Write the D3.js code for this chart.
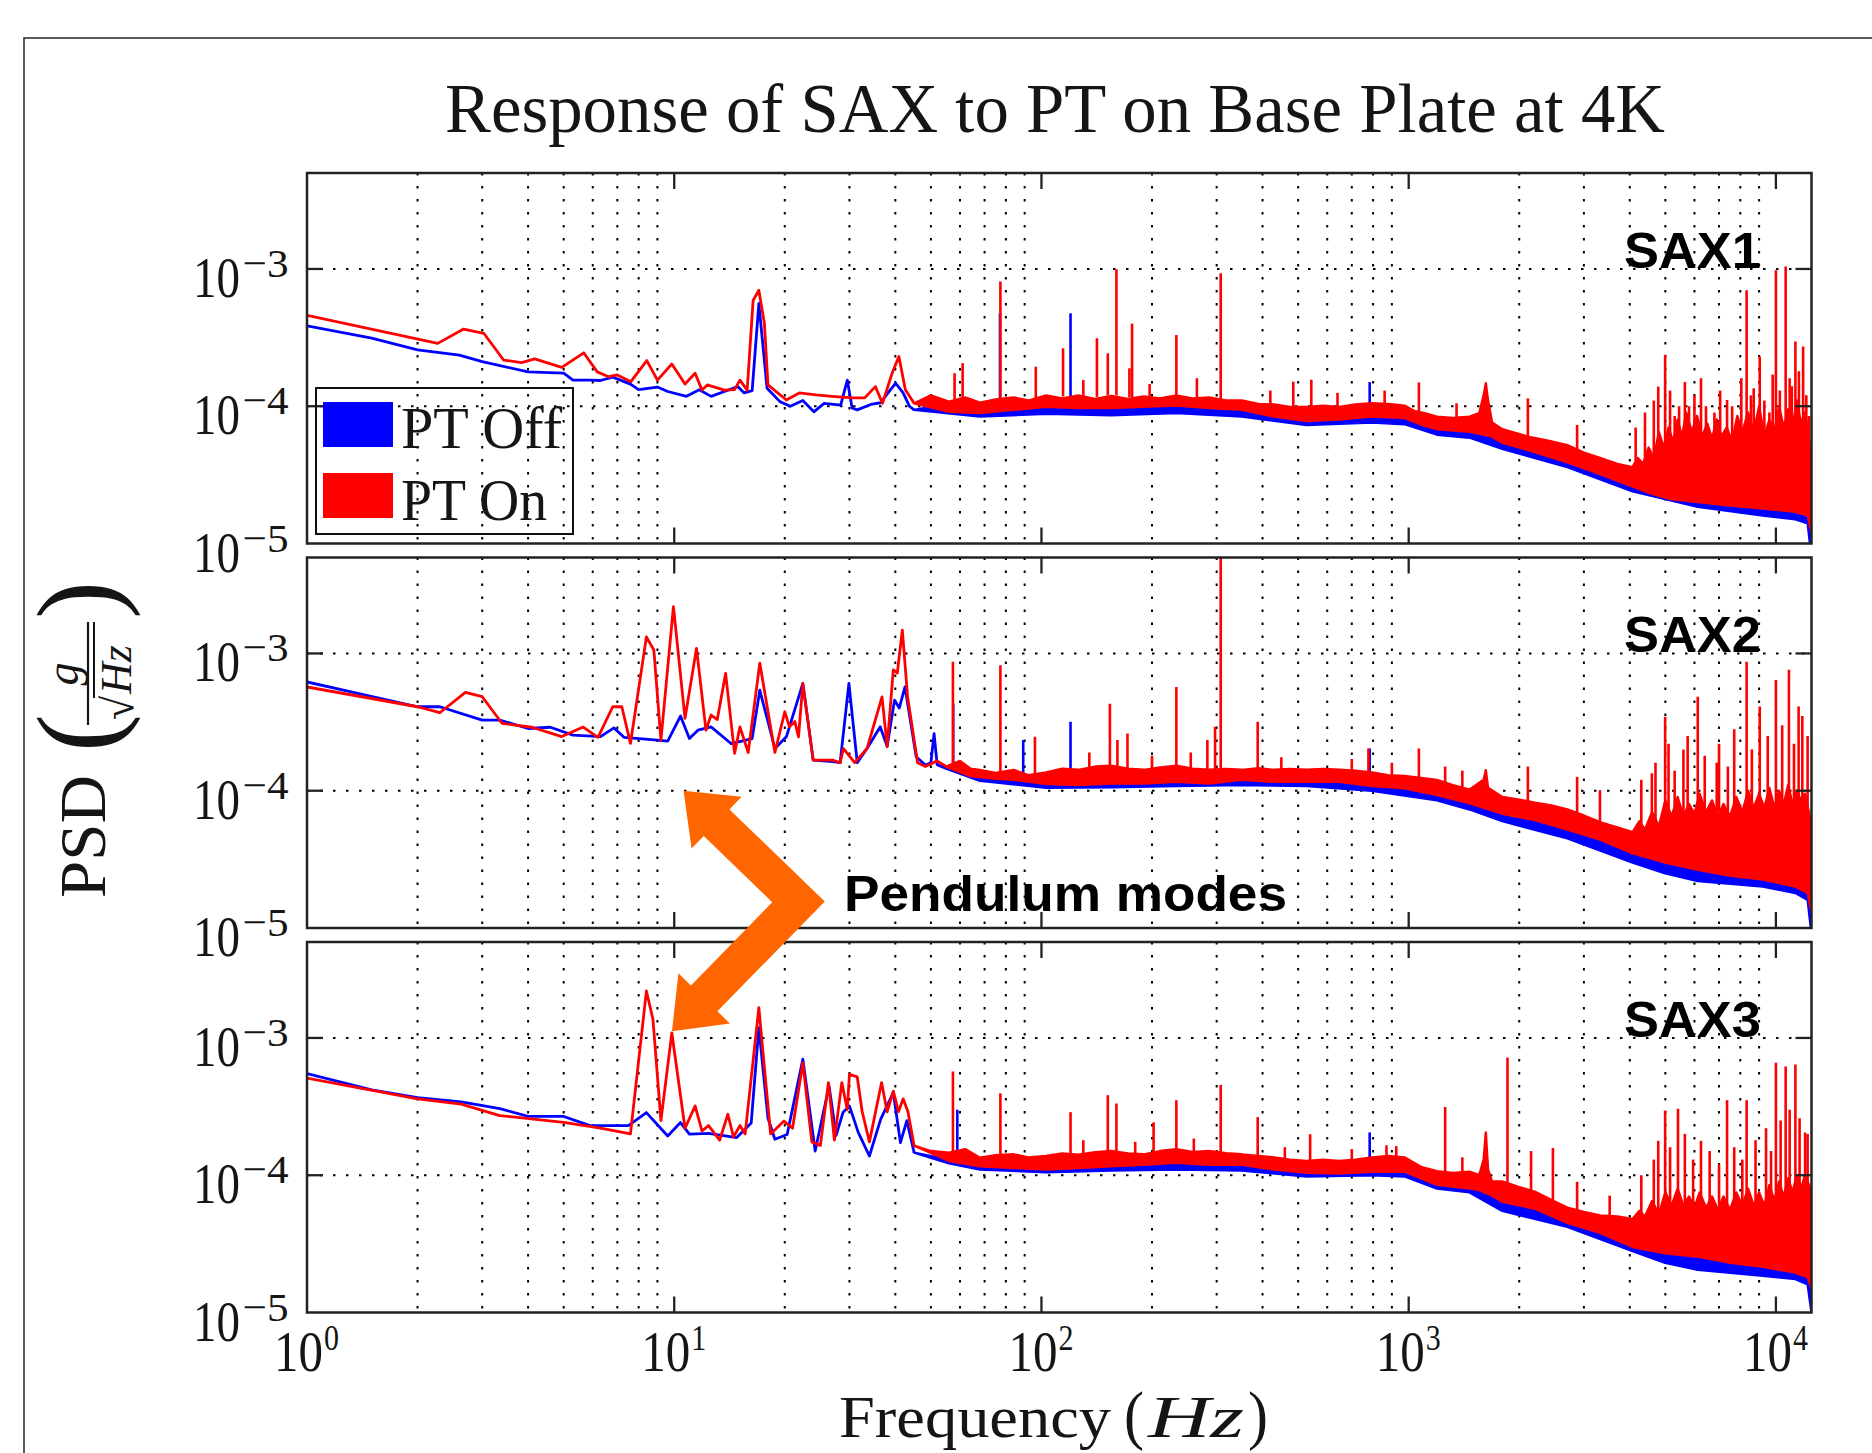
<!DOCTYPE html>
<html>
<head>
<meta charset="utf-8">
<script src="https://cdn.jsdelivr.net/npm/d3@7"></script>
<style>
  body { margin: 0; background: #fff; }
  svg { display: block; }
</style>
</head>
<body>
<svg id="chart"></svg>
<script>
// ---- data (Hz, g/sqrt(Hz)) ----
const freqDomain = [1, 12500];
const psdDomain = [1e-5, 5e-3];
const panelNames = ["SAX1", "SAX2", "SAX3"];
const seriesNames = ["PT Off", "PT On"];
const xTickValues = [1, 10, 100, 1000, 10000];
const yTickValues = [1e-5, 1e-4, 1e-3];

// SAX1
const sax1OffTrace = [[1,3.85e-4],[1.5,3.13e-4],[2,2.57e-4],[2.6,2.36e-4],[3,2.11e-4],[4,1.78e-4],[5,1.74e-4],[5.3,1.55e-4],[5.9,1.55e-4],[6.3,1.54e-4],[6.8,1.63e-4],[7.6,1.45e-4],[8,1.32e-4],[9,1.38e-4],[9.6,1.28e-4],[10.8,1.18e-4],[11.7,1.32e-4],[12.6,1.18e-4],[13.7,1.28e-4],[14.9,1.39e-4],[15.5,1.25e-4],[16.3,1.3e-4],[17,5.6e-4],[17.9,1.35e-4],[19.4,1.08e-4],[20.7,1e-4],[22.4,1.1e-4],[24,9.1e-5],[25.6,1.05e-4],[28.4,1.02e-4],[29.6,1.55e-4],[30.5,9.7e-5],[31.5,9.4e-5],[34.3,1.03e-4],[36.5,1.06e-4],[38.8,1.32e-4],[40.1,1.47e-4],[42,1.25e-4],[43.7,1e-4],[45,9.4e-5]];
const sax1OffHi = [[45,9.4e-5],[56,1.05e-4],[68,1e-4],[84,1.05e-4],[103,1.1e-4],[155,1.1e-4],[233,1.12e-4],[351,1.05e-4],[527,9.2e-5],[794,9.8e-5],[974,9.5e-5],[1194,7.8e-5],[1465,7.5e-5],[1580,7.8e-5],[1622,1.2e-4],[1660,7e-5],[1798,6.2e-5],[2704,4.5e-5],[4071,3e-5],[6126,2.6e-5],[9211,2.4e-5],[11300,2.6e-5],[12500,2e-5]];
const sax1OffLo = [[45,9.4e-5],[68,8.4e-5],[103,8.8e-5],[155,8.6e-5],[233,8.9e-5],[351,8.4e-5],[527,7.3e-5],[794,7.6e-5],[974,7.4e-5],[1194,6.2e-5],[1465,5.9e-5],[1798,4.9e-5],[2704,3.6e-5],[4071,2.4e-5],[6126,1.85e-5],[9211,1.6e-5],[11300,1.5e-5],[12200,1.4e-5],[12500,8e-6]];
const sax1OffSpikes = [[77.1,1e-4,4.75e-4],[120,1.05e-4,4.75e-4],[783,9.5e-5,1.5e-4]];
const sax1OnTrace = [[1,4.6e-4],[2.27,2.87e-4],[2.67,3.65e-4],[3.03,3.4e-4],[3.43,2.17e-4],[3.84,2.08e-4],[4.17,2.21e-4],[4.94,1.92e-4],[5.67,2.45e-4],[6.17,1.78e-4],[6.63,1.64e-4],[7,1.69e-4],[7.62,1.51e-4],[8.42,2.15e-4],[9,1.55e-4],[9.85,2.03e-4],[10.7,1.45e-4],[11.4,1.74e-4],[11.9,1.31e-4],[12.3,1.43e-4],[13.7,1.31e-4],[14.6,1.32e-4],[15.1,1.55e-4],[15.8,1.31e-4],[16.4,5.9e-4],[17,7e-4],[17.6,4e-4],[18,1.43e-4],[20.2,1.11e-4],[21.9,1.25e-4],[24.3,1.21e-4],[26.9,1.18e-4],[30.5,1.15e-4],[33,1.15e-4],[35.3,1.39e-4],[36.9,1.05e-4],[39.2,1.74e-4],[40.9,2.3e-4],[42.6,1.32e-4],[45,1.05e-4]];
const sax1OnHi = [[45,1.05e-4],[50,1.2e-4],[56,1.08e-4],[62,1.16e-4],[68,1.06e-4],[75,1.12e-4],[84,1.16e-4],[92,1.1e-4],[103,1.2e-4],[114,1.14e-4],[126,1.2e-4],[140,1.13e-4],[155,1.19e-4],[172,1.13e-4],[190,1.18e-4],[210,1.14e-4],[233,1.2e-4],[258,1.14e-4],[286,1.16e-4],[318,1.1e-4],[351,1.1e-4],[390,1.04e-4],[430,1.03e-4],[475,9.9e-5],[527,9.9e-5],[585,1.01e-4],[647,9.9e-5],[715,1.03e-4],[794,1.05e-4],[880,1.04e-4],[974,1.01e-4],[1040,9.2e-5],[1105,8.9e-5],[1194,8.4e-5],[1320,8.2e-5],[1465,8.4e-5],[1556,8.9e-5],[1600,1.2e-4],[1622,1.47e-4],[1645,1.1e-4],[1687,7.6e-5],[1798,6.8e-5],[1950,6.4e-5],[2111,6e-5],[2400,5.6e-5],[2704,5.2e-5],[3000,4.6e-5],[3318,4.2e-5],[3700,3.8e-5],[4071,3.6e-5],[4200,4.2e-5],[4350,3.8e-5],[4500,5e-5],[4650,4.2e-5],[4800,6.5e-5],[4950,5e-5],[5100,7e-5],[5250,5.5e-5],[5400,8e-5],[5550,6e-5],[5700,9e-5],[5900,6.5e-5],[6100,8.5e-5],[6300,6e-5],[6500,7.5e-5],[6700,5.8e-5],[6900,8e-5],[7100,6e-5],[7350,7e-5],[7600,5.5e-5],[7850,8.5e-5],[8100,6.5e-5],[8400,9e-5],[8700,6.5e-5],[9000,1e-4],[9300,6e-5],[9600,8e-5],[9900,6.5e-5],[10200,1e-4],[10500,7e-5],[10800,9.5e-5],[11100,7e-5],[11400,1.1e-4],[11700,7.5e-5],[12000,9e-5],[12300,6e-5],[12500,4e-5]];
const sax1OnLo = [[45,1.05e-4],[56,9.1e-5],[68,8.9e-5],[84,9.4e-5],[103,9.9e-5],[126,9.7e-5],[155,9.7e-5],[190,9.9e-5],[233,1.01e-4],[286,9.7e-5],[351,9.4e-5],[430,8.4e-5],[527,7.8e-5],[647,8e-5],[794,8.4e-5],[974,8.2e-5],[1105,7.2e-5],[1194,6.8e-5],[1465,6.5e-5],[1556,6.3e-5],[1687,6e-5],[1798,5.4e-5],[2111,4.8e-5],[2704,3.9e-5],[3318,3.2e-5],[4071,2.6e-5],[4594,2.3e-5],[5198,2.1e-5],[6126,2e-5],[7362,1.9e-5],[9211,1.8e-5],[11300,1.7e-5],[12200,1.6e-5],[12500,1.2e-5]];
const sax1OnSpikes = [[58,1.12e-4,1.74e-4],[61,1.15e-4,2.06e-4],[77.3,1.12e-4,8.1e-4],[96.5,1.15e-4,1.94e-4],[114.5,1.18e-4,2.64e-4],[130,1.18e-4,1.55e-4],[141.6,1.17e-4,3.13e-4],[151.6,1.2e-4,2.43e-4],[160,1.2e-4,9.95e-4],[173.6,1.16e-4,1.89e-4],[176.5,1.16e-4,4e-4],[197,1.16e-4,1.45e-4],[233,1.2e-4,3.3e-4],[265,1.15e-4,1.6e-4],[307.7,1.1e-4,9.3e-4],[420,1.03e-4,1.3e-4],[485,1e-4,1.51e-4],[543,1e-4,1.56e-4],[640,1e-4,1.25e-4],[860,1.04e-4,1.3e-4],[1066,9.2e-5,1.49e-4],[1350,8.2e-5,1.05e-4],[2111,6e-5,1.14e-4],[2875,4.8e-5,7.3e-5],[4150,4e-5,7e-5],[4400,4e-5,9e-5],[4650,4.5e-5,1.1e-4],[4782,4.5e-5,1.39e-4],[4993,5e-5,2.37e-4],[5150,5e-5,1.3e-4],[5300,5e-5,8.5e-5],[5450,5e-5,1e-4],[5650,5e-5,1.5e-4],[5800,5.5e-5,1e-4],[6000,5e-5,1.2e-4],[6252,5.5e-5,1.6e-4],[6450,5e-5,1e-4],[6800,5.5e-5,9e-5],[7050,5e-5,1.3e-4],[7362,5e-5,1.11e-4],[7600,5e-5,1e-4],[7900,5.5e-5,7.5e-5],[8050,5e-5,1.6e-4],[8322,5.5e-5,7e-4],[8550,5e-5,1.2e-4],[8700,5e-5,1.35e-4],[9036,5e-5,2.3e-4],[9300,5e-5,1.1e-4],[9600,5.5e-5,9e-5],[9800,5e-5,1.7e-4],[10000,5.5e-5,9.8e-4],[10250,5.5e-5,1.3e-4],[10630,5.5e-5,1.04e-3],[10900,5.5e-5,1.6e-4],[11050,5.5e-5,1.4e-4],[11300,5.8e-5,2.96e-4],[11550,5.5e-5,1.8e-4],[11860,5.5e-5,2.72e-4],[12100,5e-5,1.2e-4],[12300,5e-5,8.5e-5]];

// SAX2
const sax2OffTrace = [[1,6.2e-4],[2,4.09e-4],[2.3,4.09e-4],[3,3.27e-4],[3.35,3.27e-4],[4,2.84e-4],[4.6,2.9e-4],[5.3,2.54e-4],[6.3,2.48e-4],[6.85,2.87e-4],[7.3,2.45e-4],[9,2.34e-4],[9.6,2.3e-4],[10.4,3.5e-4],[11,2.4e-4],[11.6,2.76e-4],[12.6,2.92e-4],[14.3,2.2e-4],[16.3,2.4e-4],[17.1,5.4e-4],[18.8,2.03e-4],[20.2,2.47e-4],[22.4,6.05e-4],[23.9,1.67e-4],[27,1.63e-4],[28.3,1.6e-4],[29.9,6.05e-4],[31.5,1.6e-4],[33.5,2.03e-4],[36.4,2.92e-4],[38,2.1e-4],[39.8,4.57e-4],[41,4e-4],[42.5,5.7e-4],[45.6,1.77e-4],[48.3,1.54e-4],[50,1.6e-4],[51,2.6e-4],[52,1.55e-4],[55,1.45e-4]];
const sax2OffHi = [[55,1.45e-4],[68,1.3e-4],[103,1.25e-4],[155,1.3e-4],[233,1.35e-4],[351,1.32e-4],[527,1.3e-4],[794,1.25e-4],[1194,1.05e-4],[1465,9e-5],[1798,7.5e-5],[2704,5.5e-5],[4071,3.8e-5],[6126,3e-5],[9211,2.6e-5],[11300,2.4e-5],[12500,1.8e-5]];
const sax2OffLo = [[55,1.45e-4],[68,1.18e-4],[103,1.05e-4],[155,1.06e-4],[233,1.08e-4],[351,1.1e-4],[527,1.08e-4],[794,1e-4],[1194,8.5e-5],[1465,7.3e-5],[1798,6e-5],[2704,4.5e-5],[4071,3e-5],[4993,2.5e-5],[6126,2.2e-5],[9211,2e-5],[11300,1.8e-5],[12200,1.6e-5],[12500,9e-6]];
const sax2OffSpikes = [[57.5,1.5e-4,4.3e-4],[89.2,1.3e-4,2.34e-4],[120,1.3e-4,3.18e-4],[783,1.3e-4,2.03e-4]];
const sax2OnTrace = [[1,5.7e-4],[2,4.09e-4],[2.3,3.7e-4],[2.7,5.2e-4],[3,4.84e-4],[3.4,3.09e-4],[4.1,2.9e-4],[4.94,2.48e-4],[5.65,2.91e-4],[6.2,2.45e-4],[6.8,4.09e-4],[7.2,4.09e-4],[7.6,2.21e-4],[8.4,1.32e-3],[8.8,1.06e-3],[9.2,2.34e-4],[9.95,2.19e-3],[10.7,3.37e-4],[11.5,1.09e-3],[12.2,2.76e-4],[12.6,3.56e-4],[13.1,3.3e-4],[13.8,7.15e-4],[14.6,1.87e-4],[15.1,2.92e-4],[15.9,1.9e-4],[17.1,8.5e-4],[18.8,1.9e-4],[20,3.76e-4],[20.6,2.92e-4],[21.3,3.2e-4],[21.8,2.47e-4],[22.4,6.05e-4],[23.9,1.67e-4],[27,1.67e-4],[28.3,1.6e-4],[28.9,2.03e-4],[31,1.6e-4],[33.5,2.03e-4],[36.8,4.83e-4],[38,2.1e-4],[39.5,7.6e-4],[40.5,7.2e-4],[41.8,1.48e-3],[43.2,4.83e-4],[46,1.6e-4],[48.3,1.5e-4],[52,1.65e-4],[55,1.5e-4]];
const sax2OnHi = [[55,1.5e-4],[60,1.65e-4],[64,1.45e-4],[68,1.42e-4],[75,1.35e-4],[84,1.42e-4],[92,1.3e-4],[103,1.36e-4],[114,1.45e-4],[126,1.42e-4],[140,1.5e-4],[155,1.52e-4],[172,1.45e-4],[190,1.42e-4],[210,1.48e-4],[233,1.52e-4],[258,1.45e-4],[286,1.42e-4],[318,1.44e-4],[351,1.42e-4],[390,1.46e-4],[430,1.42e-4],[475,1.44e-4],[527,1.42e-4],[585,1.44e-4],[647,1.42e-4],[715,1.4e-4],[794,1.36e-4],[880,1.3e-4],[974,1.28e-4],[1080,1.24e-4],[1194,1.2e-4],[1320,1.1e-4],[1465,1.02e-4],[1600,1.2e-4],[1622,1.41e-4],[1645,1.05e-4],[1798,9e-5],[2000,8.6e-5],[2204,8.2e-5],[2450,7.8e-5],[2704,7.3e-5],[3000,6.6e-5],[3318,5.9e-5],[3700,5.4e-5],[4071,5e-5],[4250,6e-5],[4400,5.2e-5],[4600,7e-5],[4800,5.5e-5],[5000,8.5e-5],[5200,6.5e-5],[5400,9e-5],[5600,6.5e-5],[5800,8e-5],[6000,6.8e-5],[6200,9.5e-5],[6450,7e-5],[6700,8.5e-5],[6950,6.5e-5],[7200,8e-5],[7500,6.5e-5],[7800,9e-5],[8100,7e-5],[8400,1e-4],[8700,7.5e-5],[9000,9.5e-5],[9300,7.5e-5],[9600,1.05e-4],[9900,7.5e-5],[10200,1e-4],[10500,8e-5],[10800,1.1e-4],[11100,8e-5],[11400,1e-4],[11700,8.5e-5],[12000,9.5e-5],[12300,7e-5],[12500,5e-5]];
const sax2OnLo = [[55,1.5e-4],[64,1.28e-4],[75,1.22e-4],[84,1.2e-4],[103,1.12e-4],[126,1.1e-4],[155,1.13e-4],[190,1.13e-4],[233,1.16e-4],[286,1.13e-4],[351,1.2e-4],[430,1.16e-4],[527,1.16e-4],[647,1.16e-4],[794,1.08e-4],[974,1.04e-4],[1194,9.3e-5],[1465,8.1e-5],[1798,6.8e-5],[2204,6.1e-5],[2704,5.2e-5],[3318,4.4e-5],[4071,3.5e-5],[4993,3e-5],[6126,2.65e-5],[7516,2.4e-5],[9211,2.25e-5],[11300,2e-5],[12200,1.8e-5],[12500,1.3e-5]];
const sax2OnSpikes = [[57.4,1.5e-4,8.7e-4],[77.3,1.35e-4,8.2e-4],[96,1.3e-4,2.47e-4],[135,1.45e-4,1.9e-4],[153.6,1.5e-4,4.3e-4],[161,1.5e-4,2.34e-4],[171.5,1.45e-4,2.61e-4],[200,1.45e-4,1.8e-4],[233,1.5e-4,5.7e-4],[255,1.45e-4,1.9e-4],[283,1.42e-4,2.34e-4],[297,1.42e-4,2.92e-4],[307.7,1.42e-4,5.2e-3],[388,1.46e-4,3.18e-4],[450,1.43e-4,1.75e-4],[700,1.4e-4,1.7e-4],[777,1.36e-4,2.03e-4],[900,1.3e-4,1.6e-4],[1066,1.24e-4,2.03e-4],[1257,1.15e-4,1.5e-4],[1400,1.05e-4,1.4e-4],[2111,8.4e-5,1.5e-4],[2875,7e-5,1.26e-4],[3318,5.9e-5,1.01e-4],[4300,5.5e-5,1.2e-4],[4594,6e-5,1.34e-4],[4700,6e-5,1.6e-4],[4993,6e-5,3.46e-4],[5100,7e-5,2.2e-4],[5300,7e-5,1.4e-4],[5600,6.5e-5,2e-4],[5750,7e-5,2.5e-4],[6126,7.5e-5,4.83e-4],[6400,7e-5,1.8e-4],[6900,6.5e-5,1.6e-4],[7000,7e-5,2.2e-4],[7400,7e-5,1.5e-4],[7700,7.5e-5,2.8e-4],[8322,7e-5,8.7e-4],[8600,7.5e-5,2e-4],[9036,7.5e-5,4.1e-4],[9500,8e-5,2.5e-4],[10000,7.5e-5,6.4e-4],[10400,8e-5,3e-4],[10850,8e-5,7.6e-4],[11200,8e-5,2.2e-4],[11530,8e-5,4.1e-4],[11800,8e-5,3.5e-4],[12200,7e-5,2.5e-4]];

// SAX3
const sax3OffTrace = [[1,5.5e-4],[1.5,4.18e-4],[2,3.68e-4],[2.63,3.42e-4],[3.35,3.06e-4],[4,2.68e-4],[5,2.68e-4],[5.9,2.3e-4],[7.5,2.3e-4],[8.4,2.86e-4],[9.6,1.93e-4],[10.4,2.42e-4],[11,1.99e-4],[12.4,2.02e-4],[14.8,1.88e-4],[16.2,2.4e-4],[17,1.19e-3],[18,2.6e-4],[18.8,1.83e-4],[20.3,1.98e-4],[22.4,7e-4],[24.2,1.5e-4],[26.4,4.47e-4],[27.6,1.95e-4],[28.8,2.86e-4],[30,3.2e-4],[31.7,2.05e-4],[34,1.38e-4],[36.5,2.56e-4],[39.5,4e-4],[41.3,1.73e-4],[43,2.5e-4],[45,1.46e-4]];
const sax3OffHi = [[45,1.46e-4],[56,1.3e-4],[68,1.2e-4],[103,1.2e-4],[155,1.28e-4],[233,1.35e-4],[351,1.3e-4],[527,1.15e-4],[794,1.2e-4],[974,1.2e-4],[1194,9.5e-5],[1465,9e-5],[1580,9e-5],[1622,1.6e-4],[1660,7.5e-5],[1798,7e-5],[2704,5e-5],[4071,3.6e-5],[6126,3e-5],[9211,2.6e-5],[11300,2.4e-5],[12500,2e-5]];
const sax3OffLo = [[45,1.46e-4],[56,1.22e-4],[68,1.1e-4],[103,1.05e-4],[155,1.08e-4],[233,1.1e-4],[351,1.08e-4],[527,9.8e-5],[794,1e-4],[974,9.8e-5],[1194,8e-5],[1465,7.5e-5],[1798,5.5e-5],[2704,4.2e-5],[4071,2.8e-5],[4993,2.3e-5],[6126,2.05e-5],[9211,1.85e-5],[11300,1.75e-5],[12200,1.6e-5],[12500,1e-5]];
const sax3OffSpikes = [[59,1.3e-4,3e-4],[783,1.2e-4,2.05e-4]];
const sax3OnTrace = [[1,5.1e-4],[2,3.6e-4],[2.63,3.3e-4],[3.35,2.72e-4],[5,2.43e-4],[6.3,2.2e-4],[7.6,2e-4],[8.4,2.2e-3],[8.75,1.37e-3],[9.2,2.5e-4],[9.85,1.09e-3],[10.7,2.2e-4],[11.4,3.2e-4],[11.9,2.1e-4],[12.4,2.3e-4],[13.3,1.8e-4],[14,2.78e-4],[14.5,1.9e-4],[15.1,2.3e-4],[15.6,2e-4],[17,1.66e-3],[18.3,2e-4],[19.9,2.48e-4],[21,2.2e-4],[22.4,6.6e-4],[23.7,1.75e-4],[25,1.65e-4],[26.3,4.73e-4],[27.3,1.8e-4],[28.6,4.73e-4],[29.6,3e-4],[30,5.43e-4],[31.5,5.2e-4],[32.5,2.9e-4],[34,1.75e-4],[36.7,4.73e-4],[38,2.9e-4],[39.5,4.1e-4],[40.8,2.9e-4],[42,3.6e-4],[43.3,2.9e-4],[45,1.64e-4]];
const sax3OnHi = [[45,1.64e-4],[50,1.5e-4],[56,1.46e-4],[62,1.55e-4],[68,1.34e-4],[75,1.4e-4],[84,1.42e-4],[92,1.35e-4],[103,1.38e-4],[114,1.44e-4],[126,1.41e-4],[140,1.47e-4],[155,1.5e-4],[172,1.44e-4],[190,1.42e-4],[210,1.5e-4],[233,1.55e-4],[258,1.48e-4],[286,1.5e-4],[318,1.45e-4],[351,1.42e-4],[390,1.38e-4],[430,1.35e-4],[475,1.3e-4],[527,1.27e-4],[585,1.3e-4],[647,1.27e-4],[715,1.3e-4],[794,1.35e-4],[880,1.38e-4],[974,1.35e-4],[1080,1.15e-4],[1194,1.07e-4],[1320,1.04e-4],[1465,1.06e-4],[1556,1e-4],[1600,1.3e-4],[1622,2.05e-4],[1645,1.1e-4],[1687,9e-5],[1798,9e-5],[2000,8.2e-5],[2204,7.6e-5],[2450,6.6e-5],[2704,5.8e-5],[3000,5.4e-5],[3318,5.1e-5],[3700,5e-5],[4071,4.8e-5],[4250,5.5e-5],[4400,5e-5],[4600,6.5e-5],[4800,5.2e-5],[5000,7.5e-5],[5200,6e-5],[5400,8e-5],[5600,6e-5],[5800,7e-5],[6000,5.8e-5],[6200,7.5e-5],[6450,5.8e-5],[6700,7e-5],[6950,5.6e-5],[7200,7e-5],[7500,5.6e-5],[7800,7.5e-5],[8100,6e-5],[8400,8e-5],[8700,6e-5],[9000,7.5e-5],[9300,6e-5],[9600,8.5e-5],[9900,6.5e-5],[10200,9e-5],[10500,7e-5],[10800,9.5e-5],[11100,7.5e-5],[11400,1e-4],[11700,8e-5],[12000,1e-4],[12300,8.5e-5],[12500,8e-5]];
const sax3OnLo = [[45,1.64e-4],[56,1.27e-4],[68,1.16e-4],[84,1.13e-4],[103,1.1e-4],[126,1.13e-4],[155,1.16e-4],[190,1.19e-4],[233,1.23e-4],[286,1.19e-4],[351,1.19e-4],[430,1.1e-4],[527,1.04e-4],[647,1.03e-4],[794,1.06e-4],[974,1.06e-4],[1194,8.5e-5],[1465,8e-5],[1556,7.8e-5],[1687,7.1e-5],[1798,6.4e-5],[2204,5.7e-5],[2704,4.5e-5],[3318,3.8e-5],[4071,3e-5],[4993,2.7e-5],[6126,2.55e-5],[7516,2.3e-5],[9211,2.15e-5],[11300,1.95e-5],[12200,1.8e-5],[12500,1.5e-5]];
const sax3OnSpikes = [[57.4,1.45e-4,5.7e-4],[77.3,1.35e-4,3.95e-4],[120,1.4e-4,2.88e-4],[130,1.42e-4,1.8e-4],[151.6,1.45e-4,3.83e-4],[160,1.45e-4,3.33e-4],[180,1.44e-4,1.75e-4],[202,1.45e-4,2.43e-4],[233,1.5e-4,3.52e-4],[260,1.48e-4,1.85e-4],[307.7,1.45e-4,4.55e-4],[388,1.4e-4,2.65e-4],[460,1.32e-4,1.6e-4],[539,1.27e-4,1.99e-4],[700,1.28e-4,1.55e-4],[870,1.36e-4,1.65e-4],[925,1.35e-4,1.63e-4],[1257,1.05e-4,3.14e-4],[1400,1.05e-4,1.35e-4],[1858,8.5e-5,7.2e-4],[2154,7.6e-5,1.5e-4],[2470,6.6e-5,1.58e-4],[2875,5.5e-5,8.95e-5],[3526,5e-5,7.1e-5],[4300,5e-5,1e-4],[4650,5.5e-5,1.3e-4],[4782,5.5e-5,1.78e-4],[4993,5.5e-5,2.96e-4],[5150,6e-5,1.6e-4],[5412,6e-5,3.05e-4],[5650,6e-5,2e-4],[5950,6e-5,1.3e-4],[6252,5.5e-5,1.78e-4],[6600,6e-5,1.5e-4],[7000,6e-5,1.2e-4],[7362,5.5e-5,3.52e-4],[7700,6e-5,1.6e-4],[8100,6e-5,1.3e-4],[8322,5.5e-5,3.52e-4],[8800,6.5e-5,1.8e-4],[9400,6.5e-5,2.2e-4],[9700,7e-5,1.5e-4],[10000,6e-5,6.6e-4],[10300,7.5e-5,2.5e-4],[10630,6.5e-5,6.2e-4],[10900,7.5e-5,3e-4],[11300,6.5e-5,6.4e-4],[11600,8e-5,2.6e-4],[12010,7e-5,2.05e-4],[12200,8e-5,2e-4]];

// annotation anchors: [Hz, value, panel index]
const arrowTipUp = [10.6, 1.0e-4, 1];
const arrowTipDown = [9.86, 1.12e-3, 2];
const arrowBend = [21.8, 1.55e-5, 1];

// ---- layout ----
const width = 1872, height = 1453;
const plotLeft = 307, plotRight = 1811.5;
const panelTops = [173, 557.5, 942], panelH = 370.5;
const SY = 1.2; // the original figure is stretched vertically
const SERIF = "'Liberation Serif', 'DejaVu Serif', serif";
const SANS = "'Liberation Sans', Arial, sans-serif";
const ink = "#151515";
const blue = "#0000ff", red = "#ff0000", orange = "#ff6600";

const svg = d3.select("#chart").attr("width", width).attr("height", height);

// outer frame of the figure
svg.append("rect")
   .attr("x", 24).attr("y", 38)
   .attr("width", width).attr("height", height)
   .attr("fill", "none").attr("stroke", "#333").attr("stroke-width", 1.6);

const x = d3.scaleLog().domain(freqDomain).range([plotLeft, plotRight]);

// serif text, stretched like the original figure
function cmText(parent, px, py, str, size, anchor, len, italic) {
    const t = parent.append("text")
        .attr("transform", `translate(${px},${py}) scale(1,${SY})`)
        .attr("text-anchor", anchor || "start")
        .style("font-family", SERIF)
        .style("font-size", size + "px")
        .style("fill", ink)
        .text(str);
    if (len) t.attr("textLength", len).attr("lengthAdjust", "spacingAndGlyphs");
    if (italic) t.style("font-style", "italic");
    return t;
}

function expLabel(v) {
    const e = Math.round(Math.log10(v));
    return e < 0 ? "\u2212" + (-e) : String(e);
}

const panelData = [
    { off: [sax1OffTrace, sax1OffHi, sax1OffLo, sax1OffSpikes], on: [sax1OnTrace, sax1OnHi, sax1OnLo, sax1OnSpikes] },
    { off: [sax2OffTrace, sax2OffHi, sax2OffLo, sax2OffSpikes], on: [sax2OnTrace, sax2OnHi, sax2OnLo, sax2OnSpikes] },
    { off: [sax3OffTrace, sax3OffHi, sax3OffLo, sax3OffSpikes], on: [sax3OnTrace, sax3OnHi, sax3OnLo, sax3OnSpikes] }
];

const yScales = [];
const minorTicks = [];
for (let k = 0; k <= 4; k++) for (let m = 2; m <= 9; m++) {
    const f = m * Math.pow(10, k);
    if (f < freqDomain[1]) minorTicks.push(f);
}

function drawSeries(g, y, series, color) {
    const [trace, hi, lo, spikes] = series;
    const line = d3.line().x(d => x(d[0])).y(d => y(d[1]));
    g.append("path")
        .attr("d", line(trace))
        .attr("fill", "none").attr("stroke", color)
        .attr("stroke-width", 2.8).attr("stroke-linejoin", "round");
    const poly = hi.concat(lo.slice().reverse());
    g.append("path")
        .attr("d", line(poly) + "Z")
        .attr("fill", color).attr("stroke", color)
        .attr("stroke-width", 2.4).attr("stroke-linejoin", "round");
    g.selectAll(null).data(spikes).join("line")
        .attr("x1", d => x(d[0])).attr("x2", d => x(d[0]))
        .attr("y1", d => y(d[1])).attr("y2", d => y(d[2]))
        .attr("stroke", color).attr("stroke-width", 2.6);
}

panelData.forEach((pd, i) => {
    const top = panelTops[i], bottom = top + panelH;
    const y = d3.scaleLog().domain(psdDomain).range([bottom, top]);
    yScales.push(y);
    const g = svg.append("g");

    g.append("clipPath").attr("id", "clip" + i)
        .append("rect").attr("x", plotLeft).attr("y", top)
        .attr("width", plotRight - plotLeft).attr("height", panelH);

    // dotted grid
    g.selectAll(null).data(minorTicks).join("line")
        .attr("x1", d => x(d)).attr("x2", d => x(d))
        .attr("y1", top).attr("y2", bottom)
        .attr("stroke", "#000").attr("stroke-width", 2)
        .attr("stroke-dasharray", "2.5 10.5");
    g.selectAll(null).data([1e-4, 1e-3]).join("line")
        .attr("x1", plotLeft).attr("x2", plotRight)
        .attr("y1", d => y(d)).attr("y2", d => y(d))
        .attr("stroke", "#000").attr("stroke-width", 2)
        .attr("stroke-dasharray", "2.5 10.5");

    const data = g.append("g").attr("clip-path", `url(#clip${i})`);
    drawSeries(data, y, pd.off, blue);
    drawSeries(data, y, pd.on, red);

    // frame and major ticks
    g.append("rect").attr("x", plotLeft).attr("y", top)
        .attr("width", plotRight - plotLeft).attr("height", panelH)
        .attr("fill", "none").attr("stroke", "#222").attr("stroke-width", 2.5);
    const tl = 16;
    xTickValues.slice(1).forEach(v => {
        g.append("line").attr("x1", x(v)).attr("x2", x(v)).attr("y1", top).attr("y2", top + tl)
            .attr("stroke", "#222").attr("stroke-width", 2.3);
        g.append("line").attr("x1", x(v)).attr("x2", x(v)).attr("y1", bottom).attr("y2", bottom - tl)
            .attr("stroke", "#222").attr("stroke-width", 2.3);
    });
    yTickValues.slice(1).forEach(v => {
        g.append("line").attr("x1", plotLeft).attr("x2", plotLeft + tl).attr("y1", y(v)).attr("y2", y(v))
            .attr("stroke", "#222").attr("stroke-width", 2.3);
        g.append("line").attr("x1", plotRight).attr("x2", plotRight - tl).attr("y1", y(v)).attr("y2", y(v))
            .attr("stroke", "#222").attr("stroke-width", 2.3);
    });

    // y tick labels: "10" plus superscript exponent
    yTickValues.forEach(v => {
        cmText(g, plotLeft - 67, y(v) + 28, "10", 47, "end", 47);
        cmText(g, plotLeft - 64.5, y(v) + 8, expLabel(v), 34, "start", 46);
    });

    // panel name
    g.append("text")
        .attr("x", 1761).attr("y", y(1e-3) - 1)
        .attr("text-anchor", "end")
        .attr("textLength", 137).attr("lengthAdjust", "spacingAndGlyphs")
        .style("font-family", SANS).style("font-weight", "bold")
        .style("font-size", "50px").style("fill", "#000")
        .text(panelNames[i]);
});

// x tick labels (bottom panel only)
const xLabelY = panelTops[2] + panelH + 58;
xTickValues.forEach(v => {
    cmText(svg, x(v) + 16, xLabelY, "10", 47, "end", 49);
    cmText(svg, x(v) + 17, xLabelY - 21, expLabel(v), 30, "start", 15);
});

// title and axis labels
cmText(svg, 1055, 131.7, "Response of SAX to PT on Base Plate at 4K", 59, "middle", 1220);
cmText(svg, 839, 1437, "Frequency", 50, "start", 272);
cmText(svg, 1124, 1437, "(", 54, "start", 20);
cmText(svg, 1148, 1437, "Hz", 50, "start", 96, true);
cmText(svg, 1248, 1437, ")", 54, "start", 20);

const yl = svg.append("g").attr("transform", "translate(105,898) rotate(-90)");
yl.append("text").attr("x", 0).attr("y", 0)
    .attr("textLength", 123).attr("lengthAdjust", "spacingAndGlyphs")
    .style("font-family", SERIF).style("font-size", "66px").style("fill", ink)
    .text("PSD");
yl.append("text").attr("x", 146).attr("y", 11)
    .style("font-family", SERIF).style("font-size", "114px").style("fill", ink).text("(");
yl.append("text").attr("x", 279).attr("y", 11)
    .style("font-family", SERIF).style("font-size", "114px").style("fill", ink).text(")");
yl.append("line").attr("x1", 173).attr("x2", 276).attr("y1", -17).attr("y2", -17)
    .attr("stroke", ink).attr("stroke-width", 2.2);
yl.append("text").attr("x", 224).attr("y", -27).attr("text-anchor", "middle")
    .style("font-family", SERIF).style("font-style", "italic").style("font-size", "46px")
    .style("fill", ink).text("g");
yl.append("text").attr("x", 178).attr("y", 28)
    .style("font-family", SERIF).style("font-size", "44px").style("fill", ink).text("\u221A");
yl.append("text").attr("x", 204).attr("y", 26)
    .style("font-family", SERIF).style("font-style", "italic").style("font-size", "44px")
    .style("fill", ink).text("Hz");
yl.append("line").attr("x1", 200).attr("x2", 276).attr("y1", -11).attr("y2", -11)
    .attr("stroke", ink).attr("stroke-width", 2);

// legend (top panel)
const legend = svg.append("g");
legend.append("rect").attr("x", 316).attr("y", 388).attr("width", 257).attr("height", 146)
    .attr("fill", "none").attr("stroke", "#111").attr("stroke-width", 2);
[blue, red].forEach((c, j) => {
    legend.append("rect").attr("x", 323).attr("y", 402 + j * 71).attr("width", 70).attr("height", 45)
        .attr("fill", c);
    cmText(legend, 401, 448 + j * 72, seriesNames[j], 49, "start", j === 0 ? 161 : 146);
});

// "Pendulum modes" double arrow
function pt(a) { return [x(a[0]), yScales[a[2]](a[1])]; }
const B = pt(arrowBend), T1 = pt(arrowTipUp), T2 = pt(arrowTipDown);
const w = 18.5, hw = 36, hl = 46;
function unit(a, b) { const dx = b[0] - a[0], dy = b[1] - a[1], l = Math.hypot(dx, dy); return [dx / l, dy / l]; }
const u1 = unit(B, T1), u2 = unit(B, T2);
let d = [-(u1[0] + u2[0]), -(u1[1] + u2[1])];
const dl = Math.hypot(d[0], d[1]); d = [d[0] / dl, d[1] / dl];
const half = Math.acos(u1[0] * u2[0] + u1[1] * u2[1]) / 2;
const mit = w / Math.sin(half);
const O = [B[0] + d[0] * mit, B[1] + d[1] * mit], I = [B[0] - d[0] * mit, B[1] - d[1] * mit];
function arm(T, u) {
    let n = [-u[1], u[0]];
    if (n[0] * d[0] + n[1] * d[1] < 0) n = [-n[0], -n[1]];
    const H = [T[0] - u[0] * hl, T[1] - u[1] * hl];
    return {
        outS: [H[0] + n[0] * w, H[1] + n[1] * w], outH: [H[0] + n[0] * hw, H[1] + n[1] * hw],
        inH: [H[0] - n[0] * hw, H[1] - n[1] * hw], inS: [H[0] - n[0] * w, H[1] - n[1] * w], tip: T
    };
}
const a1 = arm(T1, u1), a2 = arm(T2, u2);
const arrowPts = [O, a1.outS, a1.outH, a1.tip, a1.inH, a1.inS, I, a2.inS, a2.inH, a2.tip, a2.outH, a2.outS];
svg.append("path").attr("d", d3.line()(arrowPts) + "Z").attr("fill", orange);

svg.append("text")
    .attr("x", 844).attr("y", 911)
    .attr("textLength", 443).attr("lengthAdjust", "spacingAndGlyphs")
    .style("font-family", SANS).style("font-weight", "bold")
    .style("font-size", "50px").style("fill", "#000")
    .text("Pendulum modes");
</script>
</body>
</html>
